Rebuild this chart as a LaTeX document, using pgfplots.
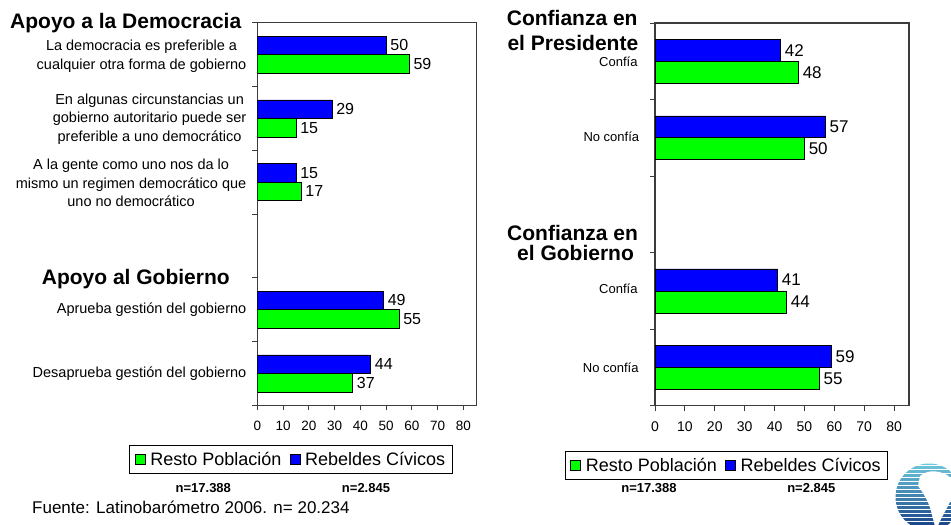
\documentclass[border=0pt]{standalone}
\usepackage{pgfplots}
\pgfplotsset{compat=1.18}
\usepackage{fontspec}
\setmainfont{Liberation Sans}
\definecolor{axgray}{RGB}{60,60,60}
\definecolor{logoA}{RGB}{110,200,220}
\definecolor{logoB}{RGB}{20,60,130}
\newcommand\fsz[1]{\fontsize{#1bp}{#1bp}\selectfont}
\pgfplotsset{
  common/.style={
    scale only axis,
    anchor=south west,
    xmin=0, xmax=85,
    y dir=reverse,
    xtick={0,10,...,80},
    yticklabels={},
    tick align=outside,
    major tick length=5bp,
    xtick pos=bottom, ytick pos=left,
    axis line style={draw=axgray, line width=1.1bp},
    every tick/.style={draw=axgray, line width=0.9bp},
    /pgf/number format/assume math mode=true,
    nodes near coords,
    point meta=explicit symbolic,
    legend columns=2,
    legend cell align=left,
    legend image code/.code={\draw[#1, draw=black, line width=0.7bp] (0bp,-5bp) rectangle (10bp,5bp);},
  },
}
\begin{document}
\begin{tikzpicture}
\useasboundingbox (0,0) rectangle (951bp,-525bp);
% ---------------- Left panel ----------------
\begin{axis}[common,
  at={(257.3bp,-405.3bp)},
  width=218.9bp, height=382.6bp,
  ymin=0.5, ymax=6.5,
  ytick={0.5,1.5,...,6.5},
  xticklabel style={font=\fsz{13.5}, yshift=-7bp},
  nodes near coords style={anchor=west, inner sep=0pt, xshift=4bp, font=\fsz{16}},
  legend style={at={(0.154,-0.1025)}, anchor=north, draw=black, line width=0.8bp,
    font=\fsz{18}, inner xsep=5bp, inner ysep=5bp,
    /tikz/every even column/.append style={column sep=6bp}},
]
\addplot[xbar, bar width=0.29, bar shift=0pt, fill=green, draw=black, line width=0.7bp]
  coordinates {(59,1.145) [59] (15,2.145) [15] (17,3.145) [17] (55,5.145) [55] (37,6.145) [37]};
\addlegendentry{\hspace{3bp}Resto Población}
\addplot[xbar, bar width=0.29, bar shift=0pt, fill=blue, draw=black, line width=0.7bp]
  coordinates {(50,0.855) [50] (29,1.855) [29] (15,2.855) [15] (49,4.855) [49] (44,5.855) [44]};
\addlegendentry{\hspace{3bp}Rebeldes Cívicos}
\end{axis}
% left labels
\node[anchor=base west, inner sep=0pt, font=\fsz{21}\bfseries] at (10bp,-28.3bp) {Apoyo a la Democracia};
\node[anchor=base west, inner sep=0pt, font=\fsz{21}\bfseries] at (41.7bp,-284bp) {Apoyo al Gobierno};
\begin{scope}[every node/.style={anchor=east, inner sep=0pt, align=center, font=\fontsize{14.5bp}{18.7bp}\selectfont}]
\node at (246.5bp,-56bp) {La democracia es preferible a\\cualquier otra forma de gobierno};
\node at (246.5bp,-119bp) {En algunas circunstancias un\\gobierno autoritario puede ser\\preferible a uno democrático};
\node at (246.5bp,-183bp) {A la gente como uno nos da lo\\mismo un regimen democrático que\\uno no democrático};
\node at (246.5bp,-310bp) {Aprueba gestión del gobierno};
\node at (246.5bp,-374bp) {Desaprueba gestión del gobierno};
\end{scope}
\node[anchor=base, inner sep=0pt, font=\fsz{13}\bfseries] at (203.3bp,-492.7bp) {n=17.388};
\node[anchor=base, inner sep=0pt, font=\fsz{13}\bfseries] at (366bp,-492.7bp) {n=2.845};
\node[anchor=base west, inner sep=0pt, font=\fsz{17}] at (32bp,-513.3bp) {Fuente: Latinobarómetro 2006. n= 20.234};
% ---------------- Right panel ----------------
\begin{axis}[common,
  at={(655bp,-405.7bp)},
  width=254bp, height=382.7bp,
  ymin=0.5, ymax=5.5,
  ytick={0.5,1.5,...,5.5},
  xticklabel style={font=\fsz{14}, yshift=-7bp},
  nodes near coords style={anchor=west, inner sep=0pt, xshift=4bp, font=\fsz{17}},
  legend style={at={(0.2815,-0.1175)}, anchor=north, draw=black, line width=0.8bp,
    font=\fsz{18}, inner xsep=5bp, inner ysep=5bp,
    /tikz/every even column/.append style={column sep=6bp}},
]
\addplot[xbar, bar width=0.287, bar shift=0pt, fill=green, draw=black, line width=0.7bp]
  coordinates {(48,1.1435) [48] (50,2.1435) [50] (44,4.1435) [44] (55,5.1435) [55]};
\addlegendentry{\hspace{3bp}Resto Población}
\addplot[xbar, bar width=0.287, bar shift=0pt, fill=blue, draw=black, line width=0.7bp]
  coordinates {(42,0.8565) [42] (57,1.8565) [57] (41,3.8565) [41] (59,4.8565) [59]};
\addlegendentry{\hspace{3bp}Rebeldes Cívicos}
\end{axis}
\begin{scope}[every node/.style={anchor=base west, inner sep=0pt}]
\node[font=\fsz{21}\bfseries] at (506.7bp,-25.7bp) {Confianza en};
\node[font=\fsz{21}\bfseries] at (507.3bp,-50.7bp) {el Presidente};
\node[font=\fsz{21}\bfseries] at (507bp,-240bp) {Confianza en};
\node[font=\fsz{21}\bfseries] at (517bp,-260.7bp) {el Gobierno};
\node[font=\fsz{13}] at (599bp,-66bp) {Confía};
\node[font=\fsz{13}] at (583.3bp,-141.7bp) {No confía};
\node[font=\fsz{13}] at (599bp,-293.3bp) {Confía};
\node[font=\fsz{13}] at (582.7bp,-372bp) {No confía};
\end{scope}
\node[anchor=base, inner sep=0pt, font=\fsz{13}\bfseries] at (649bp,-492.7bp) {n=17.388};
\node[anchor=base, inner sep=0pt, font=\fsz{13}\bfseries] at (811.3bp,-492.7bp) {n=2.845};
% ---------------- Logo ----------------
\begin{scope}
\clip (929bp,-497bp) circle (33.5bp);
\foreach \i in {0,...,16} {
  \pgfmathtruncatemacro\p{100-\i*6}
  \fill[logoA!\p!logoB] (890bp,{-462bp-\i*4bp}) rectangle (960bp,{-464.6bp-\i*4bp});
}
\fill[white] (920bp,-476bp) .. controls (928bp,-469bp) and (942bp,-470bp) .. (951bp,-478bp)
  -- (951bp,-500bp) .. controls (946bp,-510bp) and (940bp,-520bp) .. (936bp,-530bp)
  -- (932bp,-515bp) .. controls (930bp,-505bp) and (925bp,-495bp) .. (918bp,-486bp) -- cycle;
\end{scope}
\end{tikzpicture}
\end{document}
